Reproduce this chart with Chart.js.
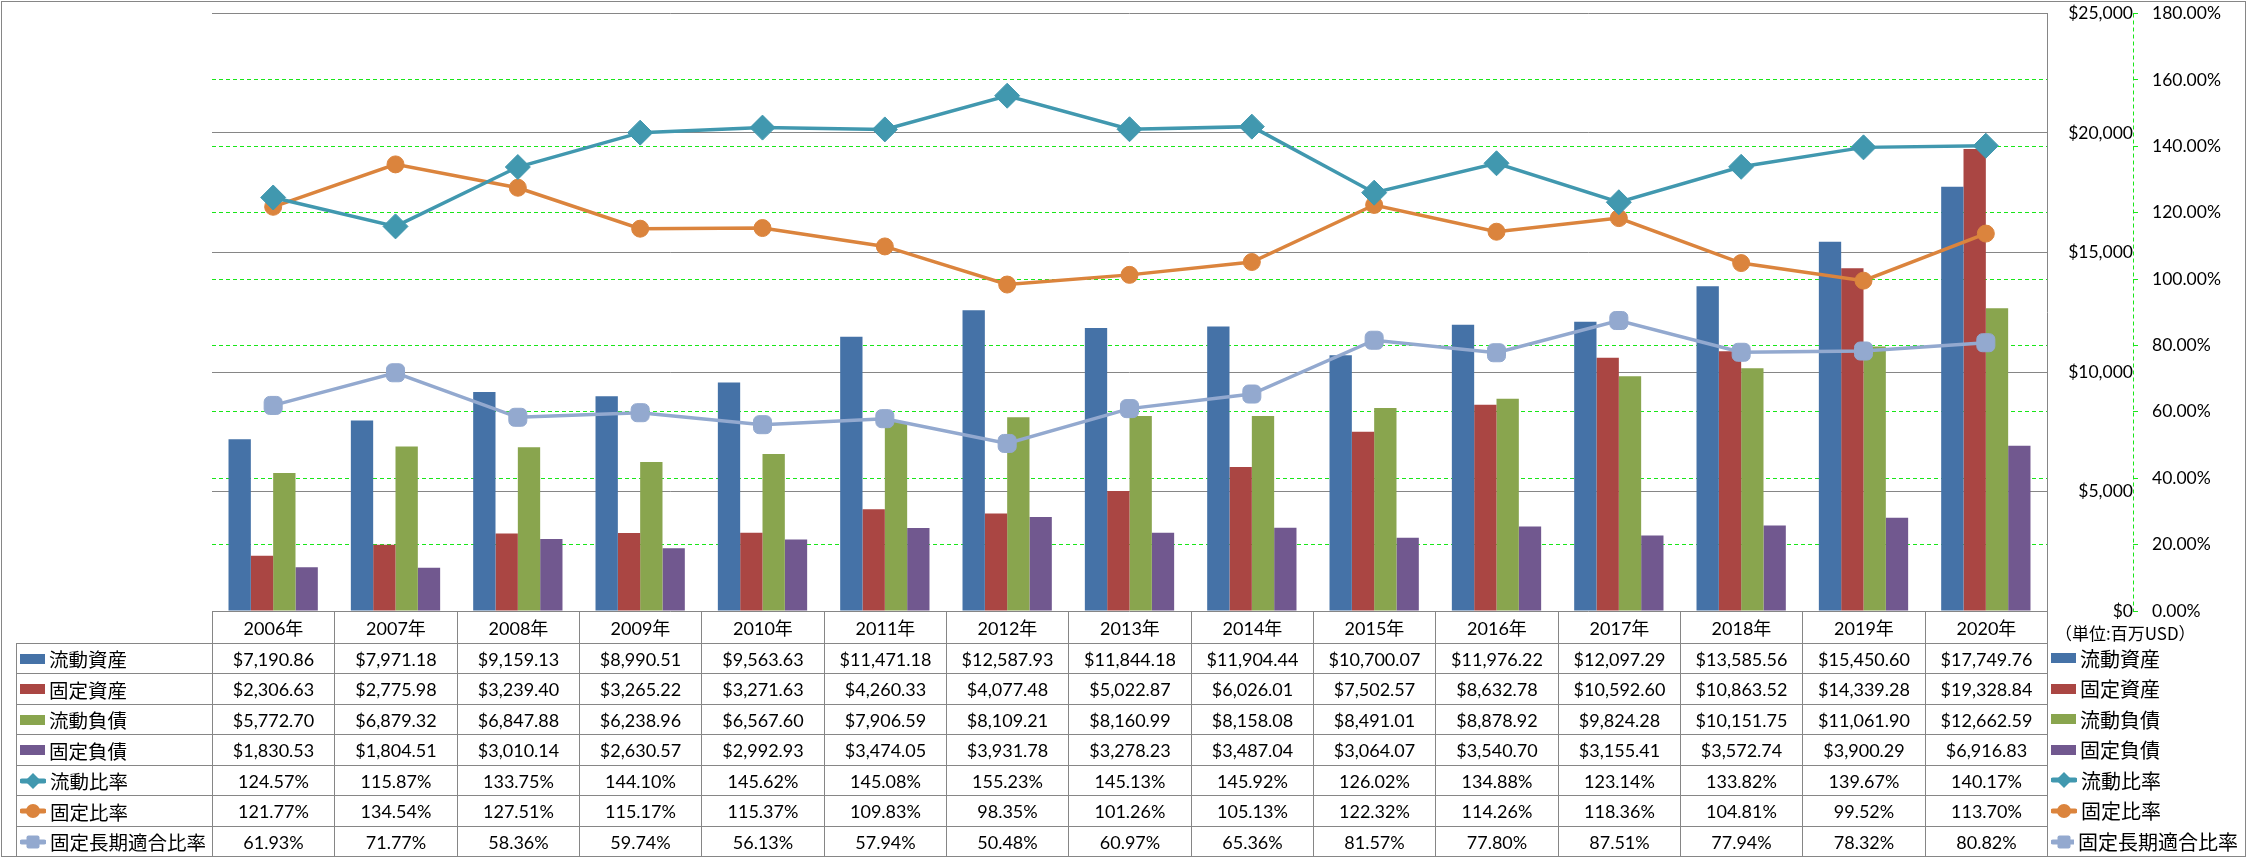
<!DOCTYPE html>
<html>
<head>
<meta charset="utf-8">
<script src="https://cdn.jsdelivr.net/npm/chart.js@4.4.0/dist/chart.umd.min.js"></script>
<style>
html, body { margin:0; padding:0; background:#fff; }
#wrap { position:relative; width:2246px; height:858px; overflow:hidden; font-family:Lato, "Noto Sans CJK JP", sans-serif; }
#c { position:absolute; left:0; top:0; }
#frame { position:absolute; left:1px; top:1px; width:2245px; height:856px; box-sizing:border-box; border:1px solid #868686; pointer-events:none; }
.cell { position:absolute; box-sizing:border-box; display:flex; align-items:center; justify-content:center; font-size:18px; color:#000; white-space:nowrap; }
.rh { justify-content:flex-start; padding-left:3px; font-size:19.5px; font-family:"Noto Sans CJK JP", sans-serif; }
.lg { justify-content:flex-start; padding-left:3px; font-size:20px; font-family:"Noto Sans CJK JP", sans-serif; }
.rh span.t, .lg span.t { margin-left:4px; }
#unit { position:absolute; font-size:17px; font-family:"Noto Sans CJK JP", sans-serif; white-space:nowrap; }
</style>
</head>
<body>
<div id="wrap">
  <canvas id="c" width="2246" height="858"></canvas>
  <div id="frame"></div>
</div>
<script>
// data
const years = ['2006年','2007年','2008年','2009年','2010年','2011年','2012年','2013年','2014年','2015年','2016年','2017年','2018年','2019年','2020年'];
const currentAssets = [7190.86, 7971.18, 9159.13, 8990.51, 9563.63, 11471.18, 12587.93, 11844.18, 11904.44, 10700.07, 11976.22, 12097.29, 13585.56, 15450.60, 17749.76];
const fixedAssets   = [2306.63, 2775.98, 3239.40, 3265.22, 3271.63, 4260.33, 4077.48, 5022.87, 6026.01, 7502.57, 8632.78, 10592.60, 10863.52, 14339.28, 19328.84];
const currentLiab   = [5772.70, 6879.32, 6847.88, 6238.96, 6567.60, 7906.59, 8109.21, 8160.99, 8158.08, 8491.01, 8878.92, 9824.28, 10151.75, 11061.90, 12662.59];
const fixedLiab     = [1830.53, 1804.51, 3010.14, 2630.57, 2992.93, 3474.05, 3931.78, 3278.23, 3487.04, 3064.07, 3540.70, 3155.41, 3572.74, 3900.29, 6916.83];
const currentRatio  = [124.57, 115.87, 133.75, 144.10, 145.62, 145.08, 155.23, 145.13, 145.92, 126.02, 134.88, 123.14, 133.82, 139.67, 140.17];
const fixedRatio    = [121.77, 134.54, 127.51, 115.17, 115.37, 109.83, 98.35, 101.26, 105.13, 122.32, 114.26, 118.36, 104.81, 99.52, 113.70];
const fixedLongRatio= [61.93, 71.77, 58.36, 59.74, 56.13, 57.94, 50.48, 60.97, 65.36, 81.57, 77.80, 87.51, 77.94, 78.32, 80.82];

const barNames  = ['流動資産','固定資産','流動負債','固定負債'];
const lineNames = ['流動比率','固定比率','固定長期適合比率'];
const unitLabel = '（単位:百万USD）';

// axis ranges
const usdMax = 25000, usdStep = 5000;
const pctMax = 180, pctStep = 20;

const barColors  = ['#4572A7','#AA4643','#89A54E','#71588F'];
const lineColors = ['#4198AF','#DB843D','#93A9CF'];
const pointStyles = ['rectRot','circle','rectRounded'];
const pointSizes  = [12.5, 8.5, 10.5];
const GRAY = '#868686', GREEN = '#19E619';

const barData  = [currentAssets, fixedAssets, currentLiab, fixedLiab];
const lineData = [currentRatio, fixedRatio, fixedLongRatio];

Chart.defaults.font.family = 'Lato, "Noto Sans CJK JP", sans-serif';
Chart.defaults.font.size = 17.5;
Chart.defaults.color = '#000';

const money = v => '$' + v.toLocaleString('en-US', {minimumFractionDigits:2, maximumFractionDigits:2});
const pct = v => v.toFixed(2) + '%';

const dashedAxis = {
  id: 'dashedAxis',
  afterDraw(chart) {
    const s = chart.scales.y1, a = chart.chartArea, ctx = chart.ctx;
    const x = Math.round(s.left) + 0.5;
    ctx.save();
    ctx.strokeStyle = GREEN; ctx.lineWidth = 1; ctx.setLineDash([4, 3]);
    ctx.beginPath(); ctx.moveTo(x, a.top); ctx.lineTo(x, a.bottom); ctx.stroke();
    ctx.restore();
  }
};

const datasets = [];
lineData.forEach((d, i) => datasets.push({
  type:'line', label: lineNames[i], data: d, yAxisID:'y1', order: i,
  borderColor: lineColors[i], backgroundColor: lineColors[i], borderWidth: 3.5,
  pointStyle: pointStyles[i], pointRadius: pointSizes[i], pointBorderWidth: 1,
  pointBorderColor: lineColors[i], pointBackgroundColor: lineColors[i], tension: 0, fill: false
}));
barData.forEach((d, i) => datasets.push({
  type:'bar', label: barNames[i], data: d, yAxisID:'y', order: 10,
  backgroundColor: barColors[i], borderWidth: 0, categoryPercentage: 0.73, barPercentage: 1
}));

// keep the plot edges where the layout padding puts them
const noPad = s => { s.paddingTop = 0; s.paddingBottom = 0; };

const chart = new Chart(document.getElementById('c'), {
  data: { labels: years, datasets },
  options: {
    responsive:false, animation:false,
    layout:{ padding:{ left:212, right:13, top:13, bottom:247 } },
    plugins:{ legend:{display:false}, tooltip:{enabled:false} },
    scales:{
      x:{ display:false, offset:true },
      y:{ position:'right', weight:0, min:0, max:usdMax,
          ticks:{ stepSize:usdStep, crossAlign:'far', padding:18, callback:v => '$' + v.toLocaleString('en-US') },
          grid:{ color:GRAY, drawTicks:false }, border:{ color:GRAY },
          afterFit(s){ s.width = 86; noPad(s); } },
      y1:{ position:'right', weight:1, min:0, max:pctMax,
          ticks:{ stepSize:pctStep, padding:14, callback:v => v.toFixed(2) + '%' },
          grid:{ color: c => (c.tick && (c.tick.value === 0 || c.tick.value === pctMax)) ? 'rgba(0,0,0,0)' : GREEN,
                 tickColor:GREEN, tickLength:5, tickBorderDash:[] },
          border:{ display:false, dash:[4,3] },
          afterFit(s){ s.width = 100; noPad(s); } }
    }
  },
  plugins:[dashedAxis]
});

// data table under the plot, columns taken from the x scale
function icon(kind, i) {
  if (kind === 'bar') return `<span style="display:inline-block;width:25px;height:10px;background:${barColors[i]}"></span>`;
  const c = lineColors[i];
  let m = '';
  if (i === 0) m = `<polygon points="13,2 21,10 13,18 5,10" fill="${c}"/>`;
  else if (i === 1) m = `<circle cx="13" cy="10" r="7" fill="${c}"/>`;
  else m = `<rect x="6.5" y="3.5" width="13" height="13" rx="2" fill="${c}"/>`;
  return `<svg width="26" height="20" style="display:block"><line x1="2" y1="10" x2="24" y2="10" stroke="${c}" stroke-width="5" stroke-linecap="round"/>${m}</svg>`;
}

function buildTable(chart) {
  const wrap = document.getElementById('wrap');
  const xs = chart.scales.x, a = chart.chartArea;
  const n = years.length, cw = (xs.right - xs.left) / n;
  const bounds = [];
  for (let i = 0; i <= n; i++) bounds.push(xs.getPixelForValue(0) - cw / 2 + i * cw);
  const tableLeft = 16, headH = 32, rowH = 30.43;
  const top0 = a.bottom;

  const add = (x, y, w, h, html, cls, style) => {
    const d = document.createElement('div');
    d.className = 'cell ' + (cls || '');
    d.style.cssText = `left:${x}px;top:${y}px;width:${w}px;height:${h}px;` + (style || '');
    d.innerHTML = html;
    wrap.appendChild(d);
  };
  const B = `1px solid ${GRAY}`;

  // header row
  years.forEach((y, c) => {
    const x0 = Math.round(bounds[c]), x1 = Math.round(bounds[c + 1]);
    add(x0, top0, x1 - x0 + (c === n - 1 ? 1 : 0), headH, y, '',
        `border-left:${B};` + (c === n - 1 ? `border-right:${B};` : ''));
  });

  const rows = [];
  barNames.forEach((nm, i) => rows.push({ name: nm, kind:'bar', i, vals: barData[i].map(money) }));
  lineNames.forEach((nm, i) => rows.push({ name: nm, kind:'line', i, vals: lineData[i].map(pct) }));

  rows.forEach((r, k) => {
    const y0 = Math.round(top0 + headH + k * rowH), y1 = Math.round(top0 + headH + (k + 1) * rowH);
    const h = y1 - y0 + (k === rows.length - 1 ? 1 : 0);
    const bb = k === rows.length - 1 ? `border-bottom:${B};` : '';
    const lab = `${icon(r.kind, r.i)}<span class="t">${r.name}</span>`;
    add(tableLeft, y0, Math.round(bounds[0]) - tableLeft, h, lab, 'rh', `border-left:${B};border-top:${B};` + bb);
    r.vals.forEach((v, c) => {
      const x0 = Math.round(bounds[c]), x1 = Math.round(bounds[c + 1]);
      add(x0, y0, x1 - x0 + (c === n - 1 ? 1 : 0), h, v, '',
          `border-left:${B};border-top:${B};` + bb + (c === n - 1 ? `border-right:${B};` : ''));
    });
    add(Math.round(bounds[n]) + 1, y0, 190, h, lab, 'lg', '');
  });

  const u = document.createElement('div');
  u.id = 'unit';
  u.style.left = (Math.round(bounds[n]) + 8) + 'px';
  u.style.top = (top0 + 9) + 'px';
  u.textContent = unitLabel;
  wrap.appendChild(u);
}
buildTable(chart);
</script>
</body>
</html>
